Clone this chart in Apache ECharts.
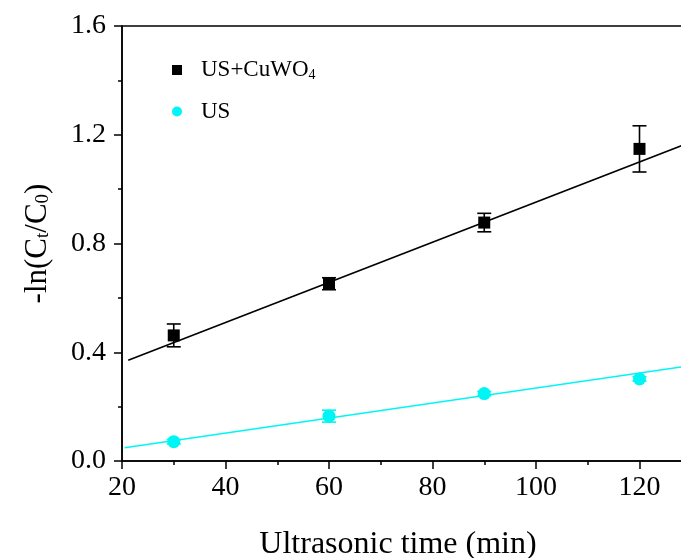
<!DOCTYPE html>
<html>
<head>
<meta charset="utf-8">
<script src="https://cdn.jsdelivr.net/npm/echarts@6/dist/echarts.min.js"></script>
<style>
  html, body { margin: 0; padding: 0; background: #fff; overflow: hidden; }
  #chart { width: 681px; height: 558px; }
</style>
</head>
<body>
<div id="chart"></div>
<script>
// ---- data ----
const xTimes = [30, 60, 90, 120];
const cuwoY = [0.462, 0.652, 0.877, 1.148];
const cuwoErr = [0.042, 0.022, 0.034, 0.085];
const usY = [0.071, 0.165, 0.248, 0.302];
const usErr = [0.008, 0.022, 0.008, 0.008];
const cuwoFitX = [21.2, 130];
const cuwoFitY = [0.371, 1.174];
const usFitX = [20.5, 130];
const usFitY = [0.049, 0.351];
const seriesNames = ['US+CuWO4', 'US'];
const xTickLabels = [20, 40, 60, 80, 100, 120];
const yTickLabels = ['0.0', '0.4', '0.8', '1.2', '1.6'];

const FONT = 'Liberation Serif';
const CYAN = '#00F5F5';

function pairs(xs, ys) { return xs.map((x, i) => [x, ys[i]]); }
function errData(xs, ys, es) { return xs.map((x, i) => [x, ys[i] - es[i], ys[i] + es[i]]); }

function errRender(color) {
  return function (params, api) {
    const x = api.value(0);
    const p1 = api.coord([x, api.value(1)]);
    const p2 = api.coord([x, api.value(2)]);
    const w = 7;
    const st = { stroke: color, lineWidth: 1.6 };
    return {
      type: 'group',
      children: [
        { type: 'line', shape: { x1: p1[0], y1: p1[1], x2: p2[0], y2: p2[1] }, style: st },
        { type: 'line', shape: { x1: p1[0] - w, y1: p1[1], x2: p1[0] + w, y2: p1[1] }, style: st },
        { type: 'line', shape: { x1: p2[0] - w, y1: p2[1], x2: p2[0] + w, y2: p2[1] }, style: st }
      ]
    };
  };
}

const chart = echarts.init(document.getElementById('chart'), null, { renderer: 'canvas' });
chart.setOption({
  animation: false,
  backgroundColor: '#fff',
  textStyle: { fontFamily: FONT, color: '#000' },
  grid: {
    left: 122, top: 26, width: 621, height: 435,
    outerBoundsMode: 'none', containLabel: false,
    show: true, borderColor: '#000', borderWidth: 1.5, backgroundColor: 'transparent'
  },
  legend: {
    orient: 'vertical',
    left: 172, top: 58, padding: 0,
    itemWidth: 10, itemHeight: 10, itemGap: 9,
    data: [
      { name: seriesNames[0], icon: 'rect' },
      { name: seriesNames[1], icon: 'circle' }
    ],
    formatter: function (name) {
      if (name === seriesNames[0]) return '{n|US+CuWO}{s|4}';
      return '{m|' + name + '}';
    },
    textStyle: {
      fontFamily: FONT, color: '#000', fontSize: 23,
      rich: {
        n: { fontFamily: FONT, fontSize: 23, lineHeight: 24, padding: [0, 0, 10, 14], verticalAlign: 'top', color: '#000' },
        s: { fontFamily: FONT, fontSize: 14, lineHeight: 14, verticalAlign: 'bottom', color: '#000' },
        m: { fontFamily: FONT, fontSize: 23, lineHeight: 24, padding: [0, 0, 0, 14], color: '#000' }
      }
    }
  },
  xAxis: {
    type: 'value', min: 20, max: 140, interval: 20,
    name: 'Ultrasonic time (min)',
    nameLocation: 'middle', nameGap: 68,
    nameTextStyle: { fontFamily: FONT, fontSize: 32, color: '#000', padding: [0, 69, 0, 0] },
    axisLine: { show: true, lineStyle: { color: '#000', width: 1.5 } },
    axisTick: { show: true, inside: false, length: 8, lineStyle: { color: '#000', width: 1.5 } },
    minorTick: { show: true, splitNumber: 2, length: 4, lineStyle: { color: '#000', width: 1.5 } },
    splitLine: { show: false },
    axisLabel: {
      fontFamily: FONT, fontSize: 28, color: '#000', margin: 13,
      formatter: function (v) { return xTickLabels.indexOf(v) >= 0 ? String(v) : ''; }
    }
  },
  yAxis: {
    type: 'value', min: 0, max: 1.6, interval: 0.4,
    name: '-ln(C{s|t}/C{s|0})',
    nameLocation: 'middle', nameGap: 69, nameRotate: 90,
    nameTextStyle: {
      fontFamily: FONT, fontSize: 31, color: '#000',
      rich: {
        s: { fontFamily: FONT, fontSize: 19, verticalAlign: 'bottom', lineHeight: 18, padding: [12, 0, 0, 0], color: '#000' }
      }
    },
    axisLine: { show: true, lineStyle: { color: '#000', width: 1.5 } },
    axisTick: { show: true, inside: false, length: 8, lineStyle: { color: '#000', width: 1.5 } },
    minorTick: { show: true, splitNumber: 2, length: 4, lineStyle: { color: '#000', width: 1.5 } },
    splitLine: { show: false },
    axisLabel: {
      fontFamily: FONT, fontSize: 28, color: '#000', margin: 16,
      formatter: function (v) { return yTickLabels[Math.round(v / 0.4)]; }
    }
  },
  series: [
    {
      name: 'fitCuWO', type: 'line', data: pairs(cuwoFitX, cuwoFitY),
      showSymbol: false, symbol: 'none', lineStyle: { color: '#000', width: 1.6 }, z: 1, silent: true
    },
    {
      name: 'fitUS', type: 'line', data: pairs(usFitX, usFitY),
      showSymbol: false, symbol: 'none', lineStyle: { color: CYAN, width: 1.6 }, z: 1, silent: true
    },
    {
      name: 'errCuWO', type: 'custom', data: errData(xTimes, cuwoY, cuwoErr),
      renderItem: errRender('#000'), z: 2, silent: true
    },
    {
      name: 'errUS', type: 'custom', data: errData(xTimes, usY, usErr),
      renderItem: errRender(CYAN), z: 2, silent: true
    },
    {
      name: seriesNames[0], type: 'scatter', data: pairs(xTimes, cuwoY),
      symbol: 'rect', symbolSize: 12, itemStyle: { color: '#000', opacity: 1 }, z: 3
    },
    {
      name: seriesNames[1], type: 'scatter', data: pairs(xTimes, usY),
      symbol: 'circle', symbolSize: 13, itemStyle: { color: CYAN, opacity: 1 }, z: 3
    }
  ]
});
</script>
</body>
</html>
